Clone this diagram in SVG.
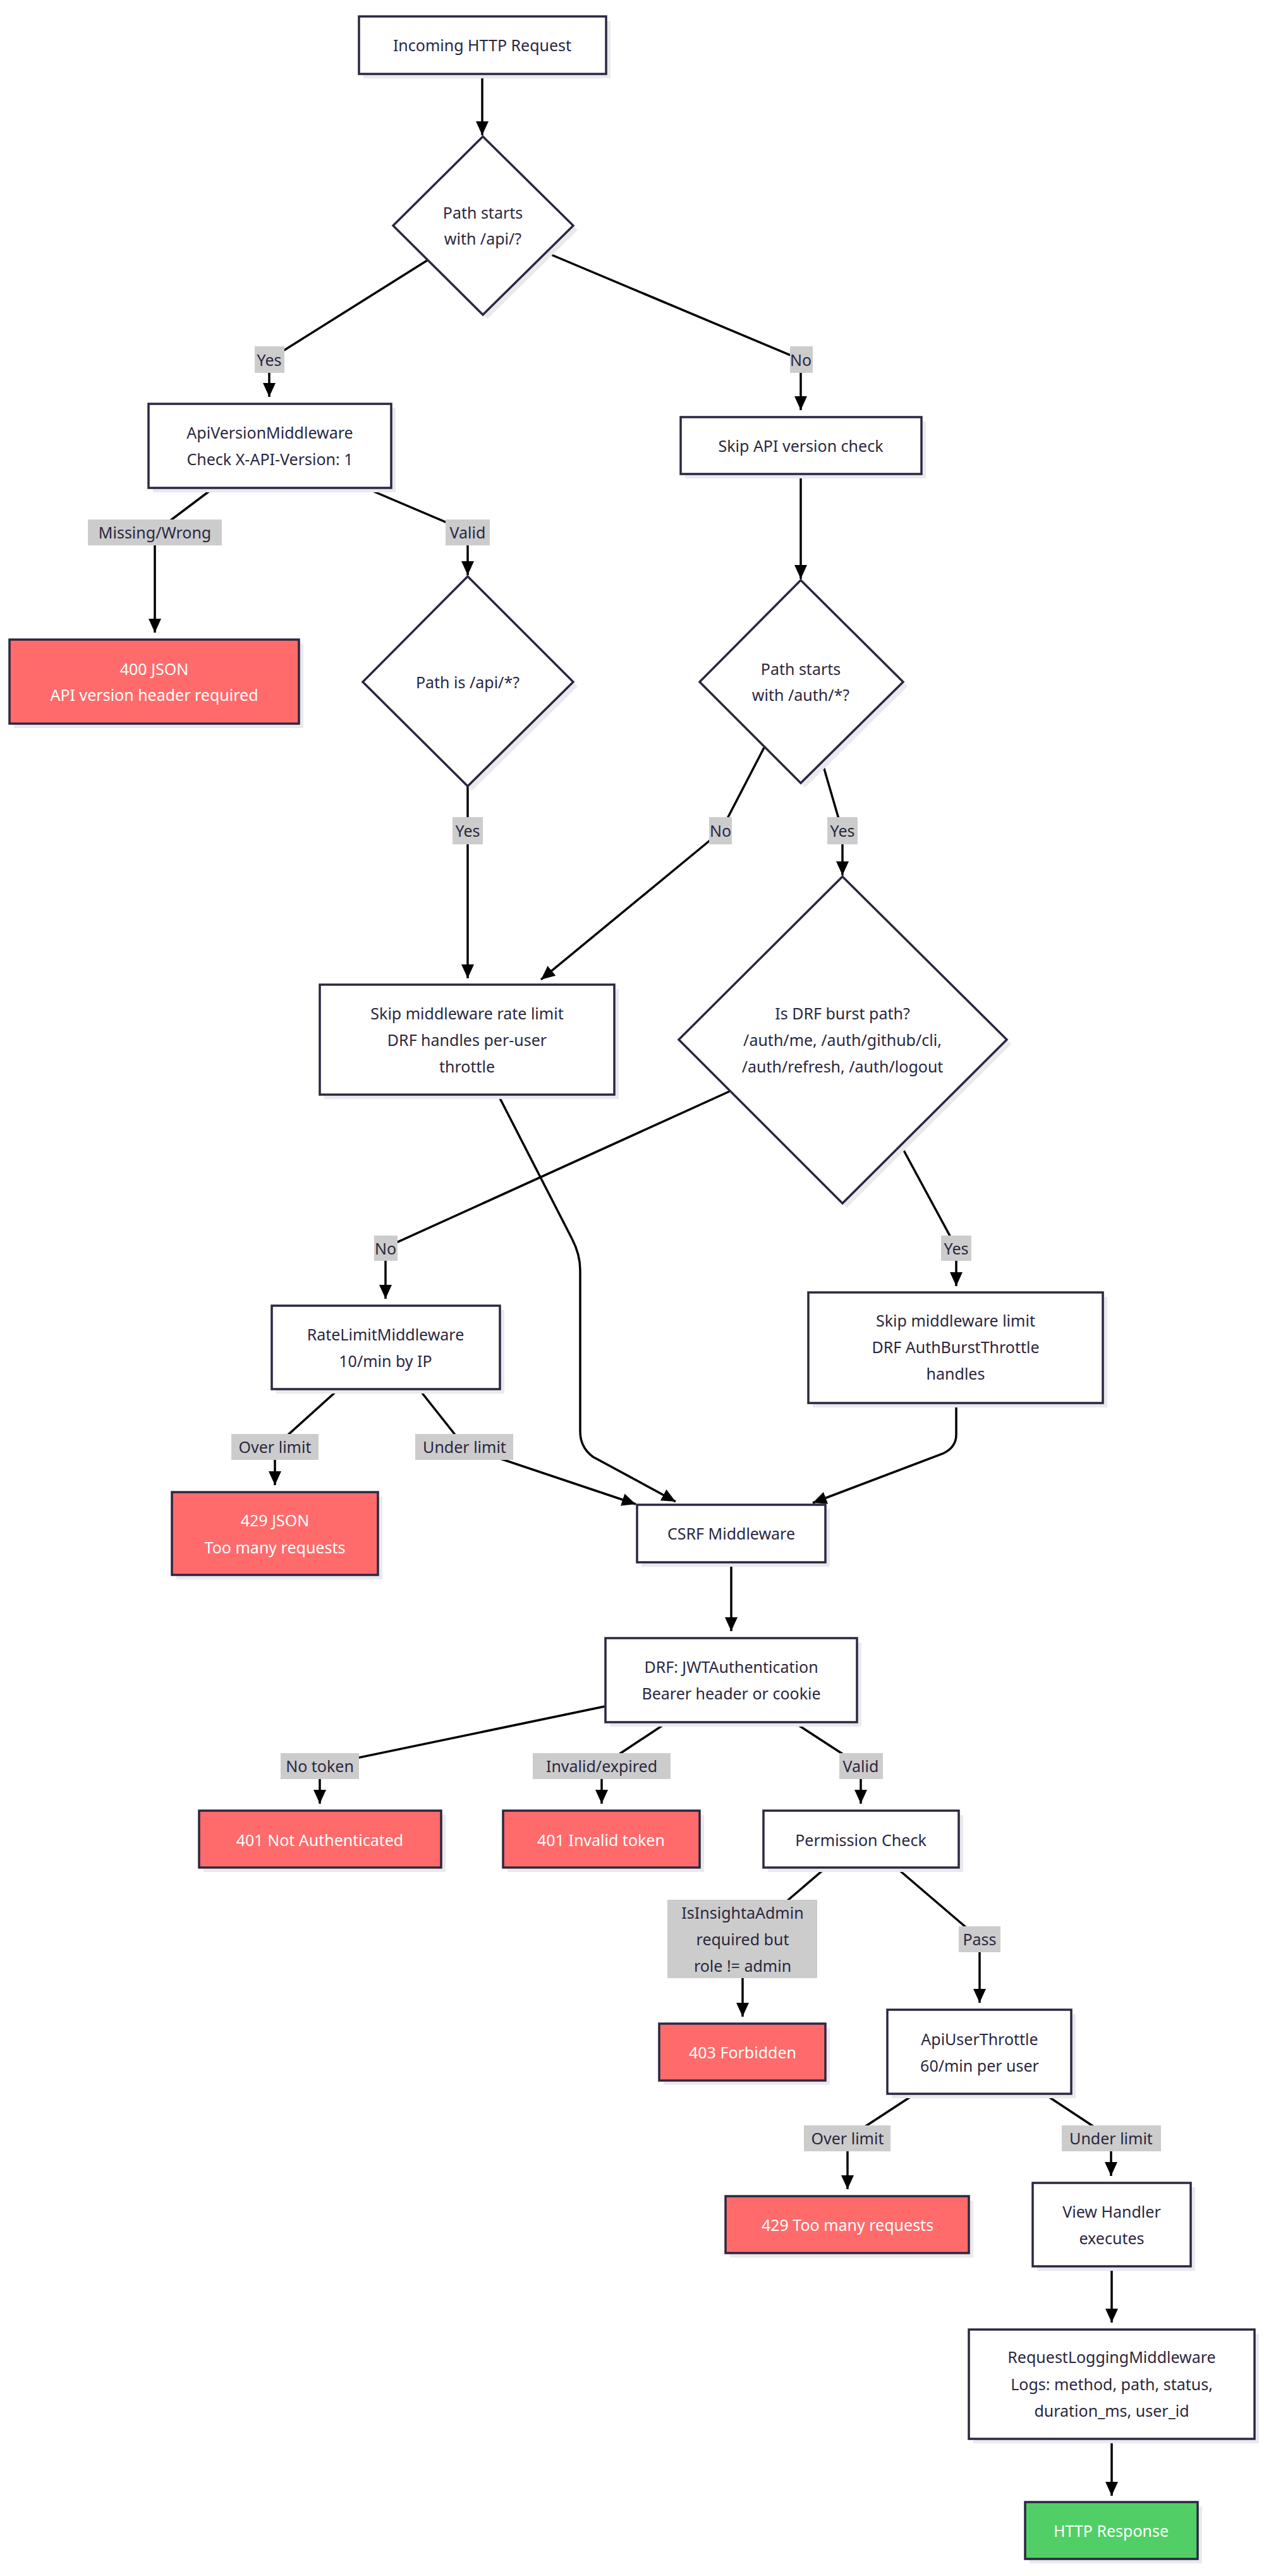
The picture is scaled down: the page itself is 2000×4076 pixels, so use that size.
<svg xmlns="http://www.w3.org/2000/svg" width="2000" height="4076" viewBox="0 0 2000 4076">
<style>
.n{fill:#fff;stroke:#2a2740;stroke-width:3.5}
.r{fill:#ff6b6b;stroke:#2a2740;stroke-width:3.5}
.g{fill:#51cf66;stroke:#2a2740;stroke-width:3.5}
.sh{fill:#e9e9ee}
.t{font-family:"Noto Sans","DejaVu Sans",sans-serif;font-size:25px;fill:#2a2740;text-anchor:middle;dominant-baseline:central}
.w{fill:#fff}
.e{fill:none;stroke:#000;stroke-width:3.5}
.lb{fill:#cccccc}
</style>
<defs>
<marker id="a" markerUnits="userSpaceOnUse" markerWidth="24" markerHeight="24" viewBox="0 0 24 24" refX="22" refY="12" orient="auto"><path d="M0,2 L22,12 L0,22 Z" fill="#000"/></marker>
</defs>
<g id="connectors">
<path class="e" d="M763,117 L763,214" marker-end="url(#a)"/>
<path class="e" d="M676,412 L426,569 L426,628" marker-end="url(#a)"/>
<path class="e" d="M865,400 L1267,569 L1267,649" marker-end="url(#a)"/>
<path class="e" d="M338,772 L245,842 L245,1001" marker-end="url(#a)"/>
<path class="e" d="M578,772 L740,841 L740,910" marker-end="url(#a)"/>
<path class="e" d="M1267,750 L1267,916" marker-end="url(#a)"/>
<path class="e" d="M740,1244 L740,1548" marker-end="url(#a)"/>
<path class="e" d="M1209,1183 L1140,1316 L856,1550" marker-end="url(#a)"/>
<path class="e" d="M1301,1206 L1333,1316 L1333,1385" marker-end="url(#a)"/>
<path class="e" d="M1154,1727 L610,1974 L610,2055" marker-end="url(#a)"/>
<path class="e" d="M1426,1813 L1513,1974 L1513,2035" marker-end="url(#a)"/>
<path class="e" d="M536,2198 L435,2289 L435,2350" marker-end="url(#a)"/>
<path class="e" d="M663,2198 L735,2289 L1006,2380" marker-end="url(#a)"/>
<path class="e" d="M788,1732 L905,1960 Q918,1985 918,2010 L918,2265 Q918,2290 938,2305 L1069,2376" marker-end="url(#a)"/>
<path class="e" d="M1513,2220 L1513,2270 Q1513,2290 1492,2300 L1286,2378" marker-end="url(#a)"/>
<path class="e" d="M1157,2472 L1157,2581" marker-end="url(#a)"/>
<path class="e" d="M957,2700 L506,2794 L506,2854" marker-end="url(#a)"/>
<path class="e" d="M1056,2725 L952,2794 L952,2854" marker-end="url(#a)"/>
<path class="e" d="M1256,2725 L1362,2794 L1362,2854" marker-end="url(#a)"/>
<path class="e" d="M1307,2955 L1175,3068 L1175,3191" marker-end="url(#a)"/>
<path class="e" d="M1418,2955 L1550,3068 L1550,3169" marker-end="url(#a)"/>
<path class="e" d="M1448,3313 L1341,3383 L1341,3464" marker-end="url(#a)"/>
<path class="e" d="M1652,3313 L1758,3383 L1758,3443" marker-end="url(#a)"/>
<path class="e" d="M1759,3586 L1759,3675" marker-end="url(#a)"/>
<path class="e" d="M1759,3859 L1759,3949" marker-end="url(#a)"/>
</g>
<g id="edge-labels">
<rect class="lb" x="403" y="548" width="47" height="42"/><text class="t" x="426" y="569">Yes</text>
<rect class="lb" x="1250" y="548" width="36" height="42"/><text class="t" x="1267" y="569">No</text>
<rect class="lb" x="139" y="822" width="212" height="41"/><text class="t" x="245" y="842">Missing/Wrong</text>
<rect class="lb" x="705" y="822" width="70" height="41"/><text class="t" x="740" y="842">Valid</text>
<rect class="lb" x="716" y="1293" width="48" height="43"/><text class="t" x="740" y="1314">Yes</text>
<rect class="lb" x="1122" y="1293" width="36" height="43"/><text class="t" x="1140" y="1314">No</text>
<rect class="lb" x="1309" y="1293" width="48" height="43"/><text class="t" x="1333" y="1314">Yes</text>
<rect class="lb" x="592" y="1955" width="37" height="40"/><text class="t" x="610" y="1975">No</text>
<rect class="lb" x="1489" y="1955" width="48" height="40"/><text class="t" x="1513" y="1975">Yes</text>
<rect class="lb" x="366" y="2269" width="138" height="41"/><text class="t" x="435" y="2289">Over limit</text>
<rect class="lb" x="657" y="2269" width="155" height="41"/><text class="t" x="735" y="2289">Under limit</text>
<rect class="lb" x="444" y="2774" width="124" height="41"/><text class="t" x="506" y="2794">No token</text>
<rect class="lb" x="843" y="2774" width="218" height="41"/><text class="t" x="952" y="2794">Invalid/expired</text>
<rect class="lb" x="1328" y="2774" width="69" height="41"/><text class="t" x="1362" y="2794">Valid</text>
<rect class="lb" x="1056" y="3006" width="237" height="124"/><text class="t" x="1175" y="3026">IsInsightaAdmin</text><text class="t" x="1175" y="3068">required but</text><text class="t" x="1175" y="3110">role != admin</text>
<rect class="lb" x="1517" y="3048" width="66" height="41"/><text class="t" x="1550" y="3068">Pass</text>
<rect class="lb" x="1272" y="3363" width="137" height="41"/><text class="t" x="1341" y="3383">Over limit</text>
<rect class="lb" x="1680" y="3363" width="157" height="41"/><text class="t" x="1758" y="3383">Under limit</text>
</g>
<g id="n-incoming"><rect class="sh" x="575" y="33" width="391" height="91"/><rect class="n" x="568" y="26" width="391" height="91"/><text class="t" x="763" y="71">Incoming HTTP Request</text></g>
<g id="n-d1"><polygon class="sh" points="771,223 914,364 771,505 629,364"/><polygon class="n" points="764,216 907,357 764,498 622,357"/><text class="t" x="764" y="336">Path starts</text><text class="t" x="764" y="377">with /api/?</text></g>
<g id="n-apiversion"><rect class="sh" x="242" y="646" width="384" height="133"/><rect class="n" x="235" y="639" width="384" height="133"/><text class="t" x="427" y="684">ApiVersionMiddleware</text><text class="t" x="427" y="726">Check X-API-Version: 1</text></g>
<g id="n-skipapi"><rect class="sh" x="1084" y="667" width="381" height="90"/><rect class="n" x="1077" y="660" width="381" height="90"/><text class="t" x="1267" y="705">Skip API version check</text></g>
<g id="n-400"><rect class="sh" x="22" y="1019" width="458" height="133"/><rect class="r" x="15" y="1012" width="458" height="133"/><text class="t w" x="244" y="1058">400 JSON</text><text class="t w" x="244" y="1099">API version header required</text></g>
<g id="n-d3"><polygon class="sh" points="747,919 914,1086 747,1251 581,1086"/><polygon class="n" points="740,912 907,1079 740,1244 574,1079"/><text class="t" x="740" y="1079">Path is /api/*?</text></g>
<g id="n-d2"><polygon class="sh" points="1274,925 1436,1086 1274,1246 1114,1086"/><polygon class="n" points="1267,918 1429,1079 1267,1239 1107,1079"/><text class="t" x="1267" y="1058">Path starts</text><text class="t" x="1267" y="1099">with /auth/*?</text></g>
<g id="n-skipmw"><rect class="sh" x="513" y="1565" width="466" height="174"/><rect class="n" x="506" y="1558" width="466" height="174"/><text class="t" x="739" y="1603">Skip middleware rate limit</text><text class="t" x="739" y="1645">DRF handles per-user</text><text class="t" x="739" y="1687">throttle</text></g>
<g id="n-d4"><polygon class="sh" points="1340,1394 1600,1652 1340,1911 1081,1652"/><polygon class="n" points="1333,1387 1593,1645 1333,1904 1074,1645"/><text class="t" x="1333" y="1603">Is DRF burst path?</text><text class="t" x="1333" y="1645">/auth/me, /auth/github/cli,</text><text class="t" x="1333" y="1687">/auth/refresh, /auth/logout</text></g>
<g id="n-ratelimit"><rect class="sh" x="437" y="2073" width="361" height="132"/><rect class="n" x="430" y="2066" width="361" height="132"/><text class="t" x="610" y="2111">RateLimitMiddleware</text><text class="t" x="610" y="2153">10/min by IP</text></g>
<g id="n-skiplimit"><rect class="sh" x="1286" y="2052" width="466" height="175"/><rect class="n" x="1279" y="2045" width="466" height="175"/><text class="t" x="1512" y="2089">Skip middleware limit</text><text class="t" x="1512" y="2131">DRF AuthBurstThrottle</text><text class="t" x="1512" y="2173">handles</text></g>
<g id="n-429ip"><rect class="sh" x="279" y="2368" width="326" height="131"/><rect class="r" x="272" y="2361" width="326" height="131"/><text class="t w" x="435" y="2405">429 JSON</text><text class="t w" x="435" y="2448">Too many requests</text></g>
<g id="n-csrf"><rect class="sh" x="1015" y="2388" width="298" height="91"/><rect class="n" x="1008" y="2381" width="298" height="91"/><text class="t" x="1157" y="2426">CSRF Middleware</text></g>
<g id="n-jwt"><rect class="sh" x="965" y="2599" width="398" height="133"/><rect class="n" x="958" y="2592" width="398" height="133"/><text class="t" x="1157" y="2637">DRF: JWTAuthentication</text><text class="t" x="1157" y="2679">Bearer header or cookie</text></g>
<g id="n-401a"><rect class="sh" x="322" y="2872" width="383" height="90"/><rect class="r" x="315" y="2865" width="383" height="90"/><text class="t w" x="506" y="2911">401 Not Authenticated</text></g>
<g id="n-401b"><rect class="sh" x="803" y="2872" width="311" height="90"/><rect class="r" x="796" y="2865" width="311" height="90"/><text class="t w" x="951" y="2911">401 Invalid token</text></g>
<g id="n-perm"><rect class="sh" x="1215" y="2872" width="309" height="90"/><rect class="n" x="1208" y="2865" width="309" height="90"/><text class="t" x="1362" y="2911">Permission Check</text></g>
<g id="n-403"><rect class="sh" x="1050" y="3209" width="263" height="90"/><rect class="r" x="1043" y="3202" width="263" height="90"/><text class="t w" x="1175" y="3247">403 Forbidden</text></g>
<g id="n-throttle"><rect class="sh" x="1411" y="3187" width="291" height="133"/><rect class="n" x="1404" y="3180" width="291" height="133"/><text class="t" x="1550" y="3226">ApiUserThrottle</text><text class="t" x="1550" y="3268">60/min per user</text></g>
<g id="n-429u"><rect class="sh" x="1155" y="3482" width="385" height="90"/><rect class="r" x="1148" y="3475" width="385" height="90"/><text class="t w" x="1341" y="3520">429 Too many requests</text></g>
<g id="n-view"><rect class="sh" x="1641" y="3461" width="250" height="132"/><rect class="n" x="1634" y="3454" width="250" height="132"/><text class="t" x="1759" y="3499">View Handler</text><text class="t" x="1759" y="3541">executes</text></g>
<g id="n-log"><rect class="sh" x="1540" y="3693" width="452" height="173"/><rect class="n" x="1533" y="3686" width="452" height="173"/><text class="t" x="1759" y="3729">RequestLoggingMiddleware</text><text class="t" x="1759" y="3772">Logs: method, path, status,</text><text class="t" x="1759" y="3814">duration_ms, user_id</text></g>
<g id="n-resp"><rect class="sh" x="1629" y="3966" width="273" height="90"/><rect class="g" x="1622" y="3959" width="273" height="90"/><text class="t w" x="1758" y="4004">HTTP Response</text></g>
</svg>
